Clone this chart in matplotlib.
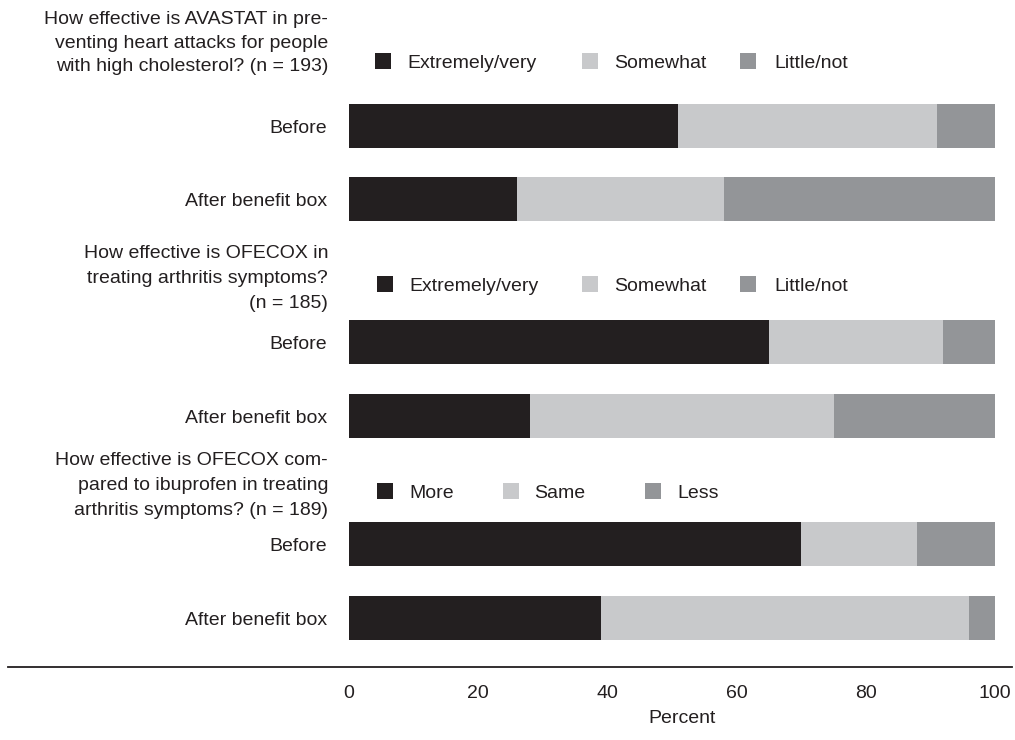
import matplotlib
matplotlib.use("Agg")
import matplotlib.pyplot as plt
from matplotlib.lines import Line2D
from matplotlib.transforms import blended_transform_factory

plt.rcParams['font.family'] = ['Liberation Sans', 'DejaVu Sans']

questions = [
    ["How effective is AVASTAT in pre-", "venting heart attacks for people",
     "with high cholesterol? (n = 193)"],
    ["How effective is OFECOX in", "treating arthritis symptoms?", "(n = 185)"],
    ["How effective is OFECOX com-", "pared to ibuprofen in treating",
     "arthritis symptoms? (n = 189)"],
]
row_labels = ["Before", "After benefit box"]
legend_labels = [
    ["Extremely/very", "Somewhat", "Little/not"],
    ["Extremely/very", "Somewhat", "Little/not"],
    ["More", "Same", "Less"],
]
# percent per panel: [before, after] x [first, second, third category]
panel_values = [
    [[51, 40, 9], [26, 32, 42]],
    [[65, 27, 8], [28, 47, 25]],
    [[70, 18, 12], [39, 57, 4]],
]
ticks = [0, 20, 40, 60, 80, 100]
colors = ["#231f20", "#c8c9cb", "#939598"]
ink = "#231f20"

W, H = 1015, 740
fig = plt.figure(figsize=(W / 100, H / 100), dpi=100)
ax = fig.add_axes([349 / W, (H - 667) / H, 646 / W, 667 / H])
ax.set_xlim(0, 100)
ax.set_ylim(667, 0)

# layout (pixel rows, y down)
bar_rows = [(126, 199), (342, 416), (544, 618)]
legend_rows = [61, 284, 491]
question_rows = [(19, 42.5, 66), (253, 278, 303), (460, 485, 510)]
legend_pos = [
    [(5.3, 9.1), (37.3, 41.1), (61.8, 65.8)],
    [(5.6, 9.4), (37.3, 41.1), (61.8, 65.8)],
    [(5.5, 9.3), (25.0, 28.6), (47.1, 50.9)],
]
fs = 14

trans = blended_transform_factory(fig.transFigure, ax.transData)
for p in range(3):
    for r in range(2):
        y = bar_rows[p][r]
        left = 0
        for k in range(3):
            v = panel_values[p][r][k]
            ax.barh(y, v, left=left, height=44, color=colors[k], linewidth=0)
            left += v
        ax.text(327 / W, y + 7, row_labels[r], transform=trans, ha="right",
                va="baseline", fontsize=fs, color=ink)
    for line, yq in zip(questions[p], question_rows[p]):
        ax.text(328 / W, yq + 5, line, transform=trans, ha="right",
                va="baseline", fontsize=fs, color=ink)
    for k in range(3):
        sx, tx = legend_pos[p][k]
        ax.plot(sx, legend_rows[p], marker="s", markersize=11.5, color=colors[k],
                markeredgewidth=0, linestyle="none", clip_on=False)
        ax.text(tx, legend_rows[p] + 7, legend_labels[p][k], ha="left",
                va="baseline", fontsize=fs, color=ink)

for s in ax.spines.values():
    s.set_visible(False)
ax.set_yticks([])
ax.set_xticks(ticks)
ax.set_xticklabels([str(t) for t in ticks])
ax.tick_params(axis="x", length=0, pad=13, labelsize=fs, labelcolor=ink)
ax.set_xlabel("Percent", fontsize=fs, color=ink)
ax.xaxis.set_label_coords(0.515, -0.065)

fig.add_artist(Line2D([8 / W, 1012 / W], [(H - 667) / H] * 2, color=ink, linewidth=1.3))

fig.savefig("out.png", dpi=100)
